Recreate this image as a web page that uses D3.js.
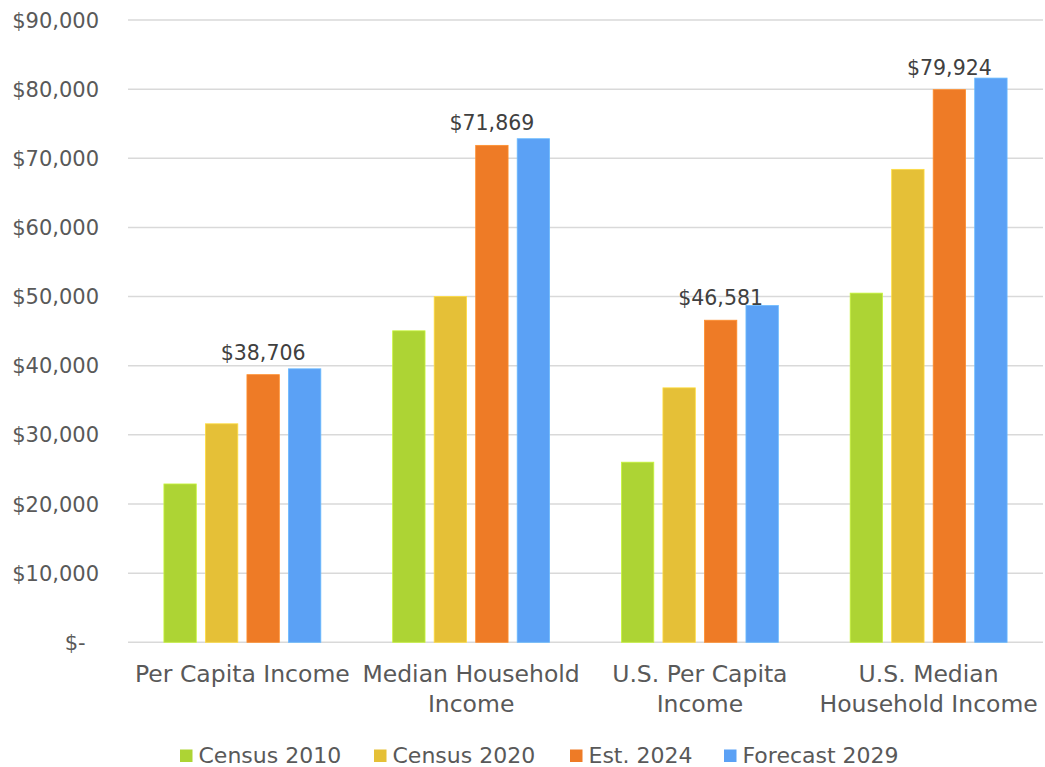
<!DOCTYPE html>
<html><head><meta charset="utf-8">
<script src="https://cdn.jsdelivr.net/npm/d3@7"></script>
<style>
html,body{margin:0;padding:0;background:#fff;}
svg{display:block;font-family:"DejaVu Sans",sans-serif;}
</style></head>
<body><svg id="chart" width="1045" height="767"></svg>
<script>
const categories = [["Per Capita Income"],["Median Household","Income"],["U.S. Per Capita","Income"],["U.S. Median","Household Income"]];
const seriesNames = ["Census 2010","Census 2020","Est. 2024","Forecast 2029"];
const census2010 = [22900, 45050, 26050, 50500];
const census2020 = [31600, 50000, 36800, 68400];
const est2024 = [38706, 71869, 46581, 79924];
const forecast2029 = [39550, 72830, 48700, 81600];
const yTicks = [0,10000,20000,30000,40000,50000,60000,70000,80000,90000];
const yTickLabels = ["$-  ","$10,000","$20,000","$30,000","$40,000","$50,000","$60,000","$70,000","$80,000","$90,000"];
const labelSeries = "Est. 2024";
const colors = ["#ADD434","#E5C037","#EE7B26","#5BA1F5"];

const series = [census2010, census2020, est2024, forecast2029];
const svg = d3.select("#chart");
const m = {left:128, right:1043, top:20, bottom:642.3};
const x0 = d3.scaleBand().domain(d3.range(categories.length)).range([m.left, m.right]).paddingInner(0.314).paddingOuter(0.157);
const x1 = d3.scaleBand().domain(seriesNames).range([0, x0.bandwidth()]).paddingInner(0.22);
const y = d3.scaleLinear().domain([0,90000]).range([m.bottom, m.top]);

// gridlines
svg.append("g").selectAll("line").data(yTicks).join("line")
  .attr("x1", m.left).attr("x2", m.right)
  .attr("y1", d=>y(d)).attr("y2", d=>y(d))
  .attr("stroke", "#d9d9d9").attr("stroke-width", 1.5);

// y labels
svg.append("g").selectAll("text").data(yTicks).join("text")
  .attr("x", 99).attr("y", d=>y(d)).attr("dy","0.36em")
  .attr("text-anchor","end").attr("fill","#595959")
  .style("font-size","21px").style("white-space","pre")
  .text((d,i)=>yTickLabels[i]);

// bars
const g = svg.append("g");
series.forEach((s, si) => {
  g.append("g").selectAll("rect").data(s).join("rect")
    .attr("x", (d,i)=> x0(i) + x1(seriesNames[si]))
    .attr("width", x1.bandwidth())
    .attr("y", d=>y(d))
    .attr("height", d=>y(0)-y(d))
    .attr("fill", colors[si])
    .attr("stroke", d3.color(colors[si]).brighter(0.4)).attr("stroke-width", 0.8);
});

// data labels
const li = seriesNames.indexOf(labelSeries);
svg.append("g").selectAll("text").data(series[li]).join("text")
  .attr("x", (d,i)=> x0(i) + x1(labelSeries) + x1.bandwidth()/2)
  .attr("y", d=> y(d) - 15)
  .attr("text-anchor","middle").attr("fill","#404040")
  .style("font-size","20.5px")
  .text(d=> "$" + d3.format(",")(d));

// category labels
const cg = svg.append("g").selectAll("text").data(categories).join("text")
  .attr("text-anchor","middle").attr("fill","#595959").style("font-size","23.5px");
cg.each(function(lines, i){
  d3.select(this).selectAll("tspan").data(lines).join("tspan")
    .attr("x", x0(i) + x0.bandwidth()/2)
    .attr("y", (d,j)=> 682 + j*29.5)
    .text(d=>d);
});

// legend
const legendX = [180, 374, 570, 724];
const lg = svg.append("g").selectAll("g").data(seriesNames).join("g")
  .attr("transform", (d,i)=>`translate(${legendX[i]},749.5)`);
lg.append("rect").attr("width",12.5).attr("height",12.5).attr("fill",(d,i)=>colors[i]);
lg.append("text").attr("x",18.5).attr("y",13.2)
  .attr("fill","#595959").style("font-size","22px").text(d=>d);
</script></body></html>
